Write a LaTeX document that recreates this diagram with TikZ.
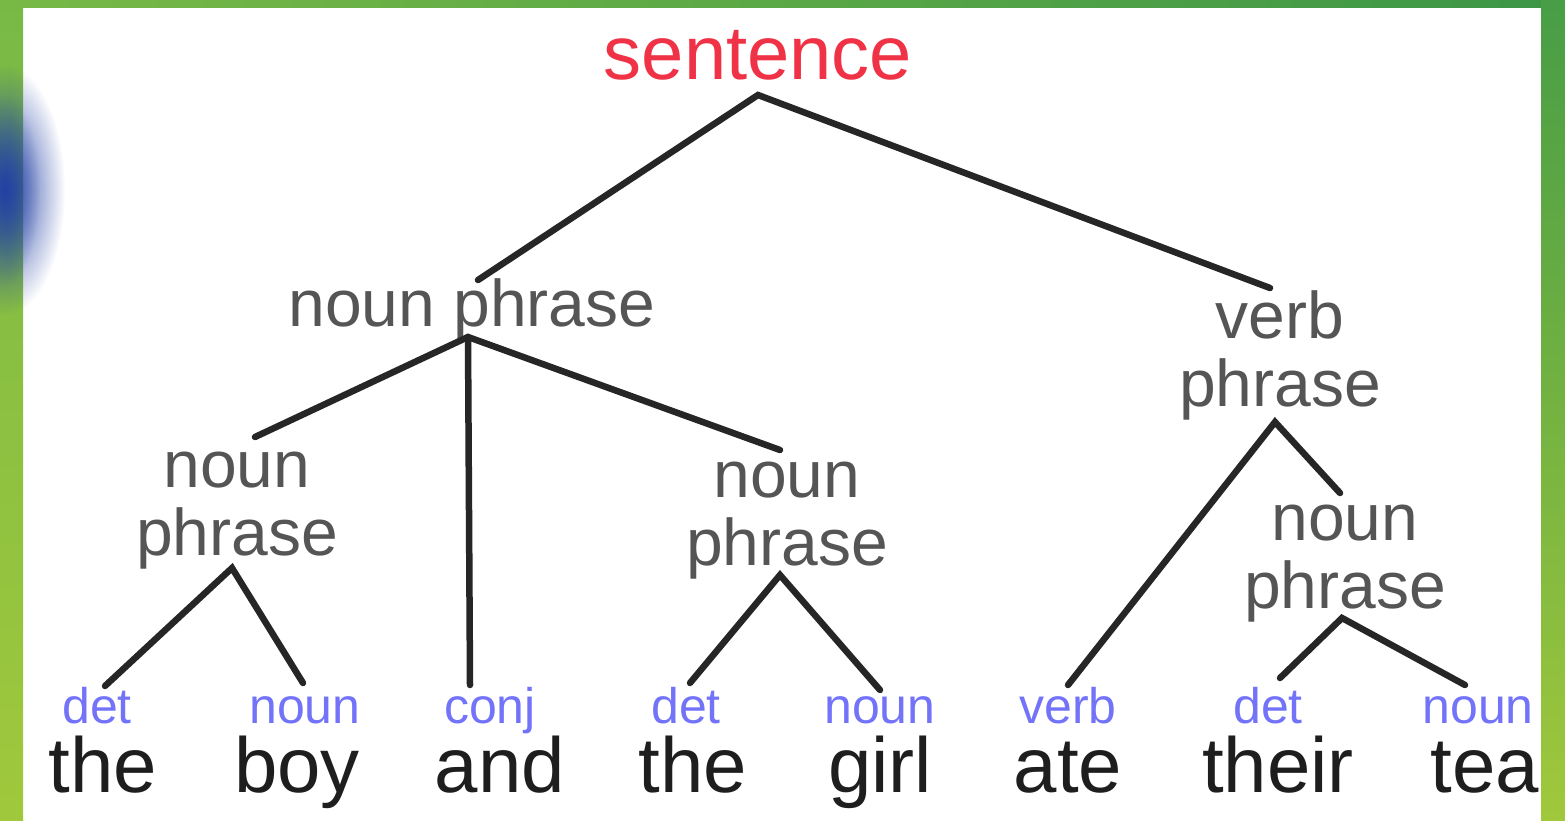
\documentclass[tikz,border=0pt]{standalone}
\usepackage{fontspec}
\setmainfont{Liberation Sans}
\usetikzlibrary{fadings}
\definecolor{redtxt}{RGB}{240,50,70}
\definecolor{graytxt}{RGB}{85,85,85}
\definecolor{bluetxt}{RGB}{115,115,250}
\definecolor{wordtxt}{RGB}{30,30,30}
\definecolor{gA}{RGB}{120,185,70}
\definecolor{gB}{RGB}{60,150,70}
\definecolor{gC}{RGB}{160,200,60}
\definecolor{blobc}{RGB}{35,65,165}
\tikzfading[name=softblob, inner color=transparent!0, outer color=transparent!100]
\tikzset{
  every node/.style={inner sep=0pt, anchor=base},
  rootlbl/.style={text=redtxt, font=\fontsize{76}{76}\selectfont},
  phr/.style={text=graytxt, font=\fontsize{66}{68}\selectfont, align=center},
  poslbl/.style={text=bluetxt, font=\fontsize{50}{50}\selectfont, text depth=0pt},
  word/.style={text=wordtxt, font=\fontsize{78}{78}\selectfont},
  branch/.style={line width=6.5pt, draw=black!85, line cap=round},
}
\begin{document}
\begin{tikzpicture}[x=1pt,y=-1pt]
\useasboundingbox (0,0) rectangle (1565,821);
% background and green frame
\fill[white] (0,0) rectangle (1565,821);
\shade[left color=gA, right color=gB] (0,0) rectangle (1565,8);
\shade[top color=gA, bottom color=gC] (0,0) rectangle (23,821);
\shade[top color=gB!80!gA, bottom color=gC] (1541,0) rectangle (1565,821);
\fill[blobc, path fading=softblob] (5,190) ellipse (60 and 125);
\fill[blobc, opacity=0.6, path fading=softblob] (5,190) ellipse (35 and 95);

% nodes (two-line nodes placed by the baseline of their last line)
\node[rootlbl] (s) at (758,80) {sentence};
\node[phr] (np) at (472,326) {noun phrase};
\node[phr] (vp) at (1280,406) {verb\\phrase};
\node[phr] (npl) at (237,555) {noun\\phrase};
\node[phr] (npm) at (787,565) {noun\\phrase};
\node[phr] (npr) at (1345,608) {noun\\phrase};

\node[poslbl] (p1) at (97,723) {det};
\node[poslbl] (p2) at (305,723) {noun};
\node[poslbl] (p3) at (490,723) {conj};
\node[poslbl] (p4) at (686,723) {det};
\node[poslbl] (p5) at (880,723) {noun};
\node[poslbl] (p6) at (1068,723) {verb};
\node[poslbl] (p7) at (1268,723) {det};
\node[poslbl] (p8) at (1478,723) {noun};

\node[word] (w1) at (103,792) {the};
\node[word] (w2) at (297,792) {boy};
\node[word] (w3) at (500,792) {and};
\node[word] (w4) at (693,792) {the};
\node[word] (w5) at (880,792) {girl};
\node[word] (w6) at (1068,792) {ate};
\node[word] (w7) at (1278,792) {their};
\node[word] (w8) at (1485,792) {tea};

% branch points
\coordinate (sA) at (758,95);
\coordinate (npT) at (478,280);
\coordinate (vpT) at (1270,288);
\coordinate (npA) at (468,337);
\coordinate (nplT) at (255,437);
\coordinate (p3T) at (470,685);
\coordinate (npmT) at (780,450);
\coordinate (nplA) at (232,568);
\coordinate (p1T) at (105,686);
\coordinate (p2T) at (303,683);
\coordinate (npmA) at (780,575);
\coordinate (p4T) at (690,683);
\coordinate (p5T) at (880,690);
\coordinate (vpA) at (1275,422);
\coordinate (p6T) at (1068,685);
\coordinate (nprT) at (1340,493);
\coordinate (nprA) at (1342,618);
\coordinate (p7T) at (1280,678);
\coordinate (p8T) at (1465,685);

% branches
\draw[branch] (npT) -- (sA) -- (vpT);
\draw[branch] (nplT) -- (npA) -- (npmT);
\draw[branch] (npA) -- (p3T);
\draw[branch] (p1T) -- (nplA) -- (p2T);
\draw[branch] (p4T) -- (npmA) -- (p5T);
\draw[branch] (p6T) -- (vpA) -- (nprT);
\draw[branch] (p7T) -- (nprA) -- (p8T);
\end{tikzpicture}
\end{document}
